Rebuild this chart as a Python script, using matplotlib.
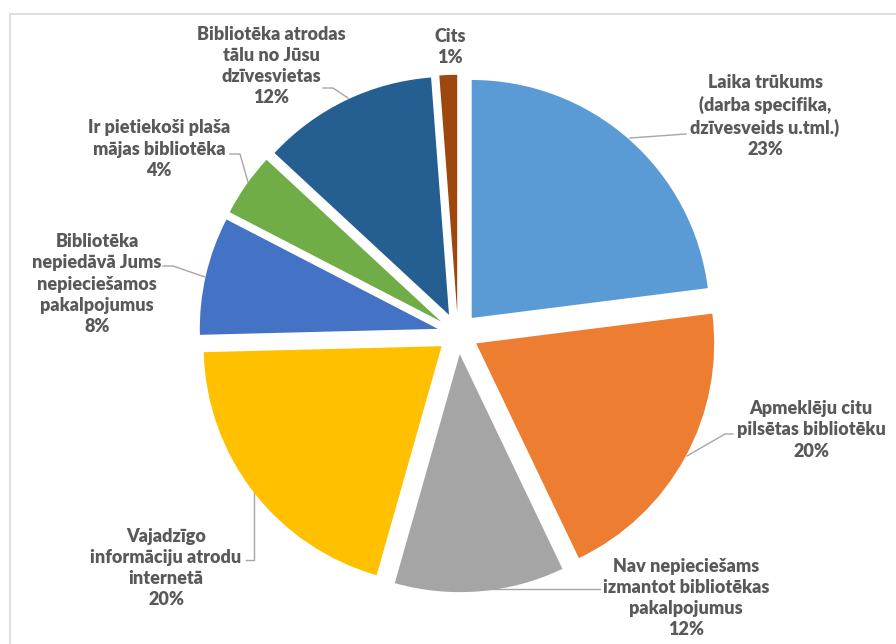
import matplotlib
matplotlib.use("Agg")
import matplotlib.pyplot as plt

# dati (procenti, pulksteņrādītāja virzienā no augšas)
categories = [
    "Laika trūkums\n(darba specifika,\ndzīvesveids u.tml.)",
    "Apmeklēju citu\npilsētas bibliotēku",
    "Nav nepieciešams\nizmantot bibliotēkas\npakalpojumus",
    "Vajadzīgo\ninformāciju atrodu\ninternetā",
    "Bibliotēka\nnepiedāvā Jums\nnepieciešamos\npakalpojumus",
    "Ir pietiekoši plaša\nmājas bibliotēka",
    "Bibliotēka atrodas\ntālu no Jūsu\ndzīvesvietas",
    "Cits",
]
values = [23.0, 19.9, 11.5, 20.2, 8.0, 4.3, 11.9, 1.2]
pct_labels = ["23%", "20%", "12%", "20%", "8%", "4%", "12%", "1%"]
colors = ["#5B9BD5", "#ED7D31", "#A5A5A5", "#FFC000",
          "#4472C4", "#70AD47", "#255E91", "#9E480E"]

W, H = 896, 644
R = 238.0          # rādiuss pikseļos
CX, CY = 458, 333.5

fig = plt.figure(figsize=(W / 100, H / 100), dpi=100)
ax = fig.add_axes([0, 0, 1, 1])

ax.pie(values, colors=colors, startangle=90, counterclock=False,
       explode=[0.087] * len(values), radius=1.0,
       wedgeprops=dict(linewidth=0))
ax.set_aspect("auto")
ax.set_xlim(-CX / R, (W - CX) / R)
ax.set_ylim(-(H - CY) / R, CY / R)
ax.axis("off")


def px(x, y):
    return x / W, 1 - y / H


# etiķešu pozīcijas (pikseļos)
label_pos = [(765, 116), (811, 430), (686, 598), (166, 568),
             (97, 284), (159, 149), (271, 66), (450, 47)]
leaders = [
    [(630, 138), (686, 134)],
    [(733, 434), (725, 434), (687, 456)],
    [(483, 589), (600, 589)],
    [(254, 493), (254, 560), (246, 560)],
    [(163, 266), (173, 266), (205, 277)],
    [(230, 154), (240, 154), (248, 182)],
    [(323, 88), (333, 88), (348, 98)],
    None,
]

for cat, pct, (lx, ly), ld in zip(categories, pct_labels, label_pos, leaders):
    fx, fy = px(lx, ly)
    fig.text(fx, fy, cat + "\n" + pct, ha="center", va="center",
             fontsize=13, fontweight="heavy", color="#595959",
             family="Lato", linespacing=1.3)
    if ld:
        xs = [p[0] / W for p in ld]
        ys = [1 - p[1] / H for p in ld]
        fig.add_artist(plt.Line2D(xs, ys, color="#A6A6A6", linewidth=1.0,
                                  transform=fig.transFigure))

# rāmis (tikai kreisā un augšējā mala redzama)
fig.add_artist(plt.Line2D([10 / W, 10 / W], [0, 1 - 14 / H], color="#D9D9D9",
                          linewidth=1.2, transform=fig.transFigure))
fig.add_artist(plt.Line2D([10 / W, 1], [1 - 14 / H, 1 - 14 / H], color="#D9D9D9",
                          linewidth=1.2, transform=fig.transFigure))

fig.savefig("out.png", dpi=100)
